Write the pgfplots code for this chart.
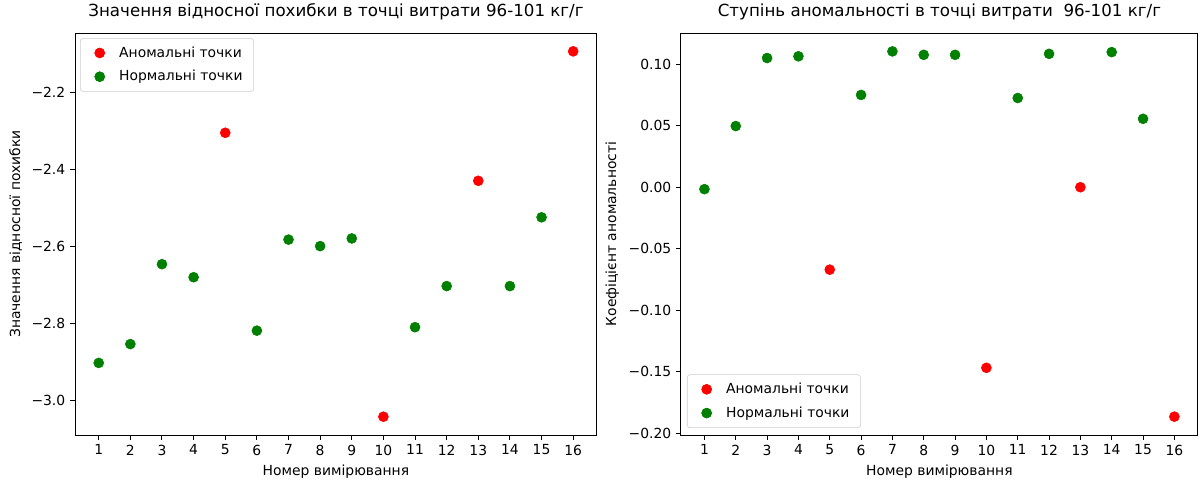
\documentclass[border=0pt]{standalone}
\usepackage{fontspec}
\setmainfont{DejaVu Sans}
\usepackage{pgfplots}
\pgfplotsset{compat=1.18}
\definecolor{anomred}{RGB}{255,0,0}
\definecolor{normgreen}{RGB}{0,128,0}
\definecolor{legframe}{RGB}{204,204,204}

% 1 px of the reference = 0.72pt (100 dpi)
\pgfplotsset{
  scatterax/.style={
    scale only axis,
    height=289.4pt,
    xmin=0.25, xmax=16.75,
    xtick={1,...,16},
    tick align=outside, xtick pos=bottom, ytick pos=left,
    major tick length=3.5pt,
    tick style={black, line width=0.7pt},
    axis line style={line width=0.7pt},
    every tick label/.append style={font=\fontsize{10}{12}\selectfont},
    label style={font=\fontsize{10}{12}\selectfont},
    title style={font=\fontsize{12}{14}\selectfont, anchor=base, yshift=6pt, inner sep=0pt},
    /pgf/number format/assume math mode=true,
    xlabel={Номер вимірювання},
    legend cell align=left,
    legend style={draw=legframe, rounded corners=2pt, font=\fontsize{10}{12}\selectfont,
      row sep=4pt, inner xsep=4pt, inner ysep=4pt,
      nodes={inner xsep=4pt}},
  },
  % scatter marks; the legend handle is 20pt wide with the mark in its middle
  dotmarks/.style={only marks, mark=*, mark size=3.6pt,
    legend image code/.code={
      \path[draw=none] (0pt,0pt) -- (20pt,0pt);
      \draw[##1, draw opacity=0] plot coordinates {(10pt,0pt)};
      \path[##1] plot coordinates {(10pt,0pt)};
    }},
  anom/.style={dotmarks, color=anomred},
  norm/.style={dotmarks, color=normgreen},
}

\begin{document}
\begin{tikzpicture}
\useasboundingbox (-54pt,-33.1pt) rectangle (812.2pt,313.2pt);

% left: relative error
\begin{axis}[scatterax,
  at={(0pt,0pt)}, anchor=south west,
  width=375.8pt,
  ymin=-3.0906, ymax=-2.0444,
  ytick={-3.0,-2.8,-2.6,-2.4,-2.2},
  yticklabels={−3.0,−2.8,−2.6,−2.4,−2.2},
  title={Значення відносної похибки в точці витрати 96-101 кг/г},
  ylabel={Значення відносної похибки},
  legend style={at={(0.0096,0.9876)}, anchor=north west},
]
\addplot[anom] coordinates {(5,-2.304) (10,-3.043) (13,-2.429) (16,-2.092)};
\addlegendentry{Аномальні точки}
\addplot[norm] coordinates {
  (1,-2.903) (2,-2.854) (3,-2.646) (4,-2.680) (6,-2.819) (7,-2.582)
  (8,-2.599) (9,-2.579) (11,-2.810) (12,-2.703) (14,-2.703) (15,-2.524)
};
\addlegendentry{Нормальні точки}
\end{axis}

% right: anomaly degree
\begin{axis}[scatterax,
  at={(436.3pt,0pt)}, anchor=south west,
  width=372.2pt,
  ymin=-0.2014, ymax=0.1253,
  ytick={-0.20,-0.15,-0.10,-0.05,0,0.05,0.10},
  yticklabels={−0.20,−0.15,−0.10,−0.05,0.00,0.05,0.10},
  title={Ступінь аномальності в точці витрати \ 96-101 кг/г},
  ylabel={Коефіцієнт аномальності},
  legend style={at={(0.0116,0.0174)}, anchor=south west},
]
\addplot[anom] coordinates {(5,-0.067) (10,-0.1468) (13,0.000) (16,-0.1865)};
\addlegendentry{Аномальні точки}
\addplot[norm] coordinates {
  (1,-0.0016) (2,0.0497) (3,0.1050) (4,0.1064) (6,0.0750) (7,0.1104)
  (8,0.1076) (9,0.1076) (11,0.0725) (12,0.1084) (14,0.1098) (15,0.0556)
};
\addlegendentry{Нормальні точки}
\end{axis}
\end{tikzpicture}
\end{document}
